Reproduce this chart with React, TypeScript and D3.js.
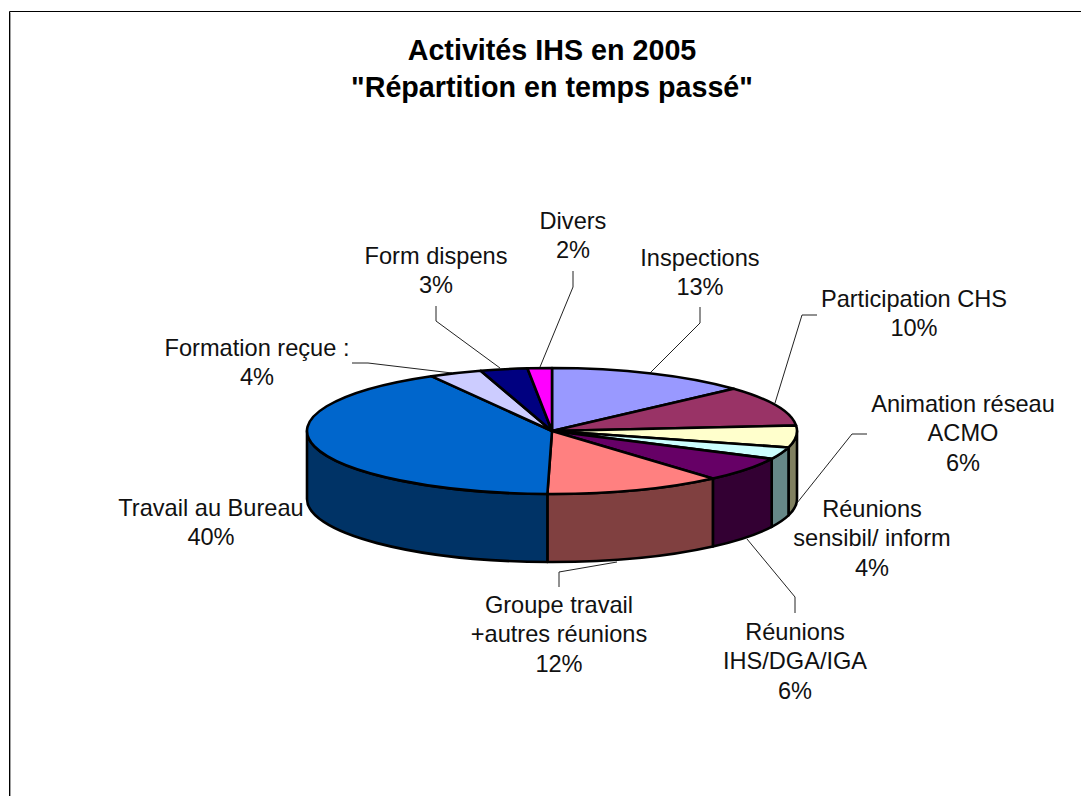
import React from "react";
import * as d3 from "d3";

const titleLines = ["Activités IHS en 2005", "\"Répartition en temps passé\""];
const categories = ["Inspections", "Participation CHS", "Animation réseau ACMO", "Réunions sensibil/ inform", "Réunions IHS/DGA/IGA", "Groupe travail +autres réunions", "Travail au Bureau", "Formation reçue :", "Form dispens", "Divers"];
const values = [13.3, 10.3, 5.6, 3.1, 6.3, 11.7, 41.5, 3.5, 3.1, 1.6];
const topColors = ["#9999FF", "#993366", "#FFFFCC", "#CCFFFF", "#660066", "#FF8080", "#0066CC", "#CCCCFF", "#000080", "#FF00FF"];
const sideColors = ["#4D4D80", "#4D1A33", "#808060", "#668888", "#330033", "#804040", "#003366", "#666680", "#000040", "#800080"];
const labelLines = [["Inspections", "13%"], ["Participation CHS", "10%"], ["Animation réseau", "ACMO", "6%"], ["Réunions", "sensibil/ inform", "4%"], ["Réunions", "IHS/DGA/IGA", "6%"], ["Groupe travail", "+autres réunions", "12%"], ["Travail au Bureau", "40%"], ["Formation reçue :", "4%"], ["Form dispens", "3%"], ["Divers", "2%"]];
const labelAnchors: [number, number][] = [[700, 266], [914, 307], [963, 412], [872, 517], [795, 640], [559, 613], [211, 516], [257, 356], [436, 264], [573, 229]];
const leaders: [number, number][][] = [
  [[700, 307], [700, 323], [650, 373]],
  [[817, 315], [802, 315], [775, 403]],
  [[867, 434], [852, 434], [793, 508]],
  [],
  [[795, 613], [795, 597], [747, 539]],
  [[617, 562], [559, 572], [559, 587]],
  [],
  [[352, 363], [368, 363], [452, 373]],
  [[436, 306], [436, 321], [500, 368]],
  [[573, 271], [573, 287], [540, 367]],
];

const W = 1081, H = 796;
const cx = 552, cy = 431, rx = 245, ry = 63, depth = 68;
const lineH = 29.3;

const pt = (a: number, dy = 0): [number, number] => [cx + rx * Math.sin(a), cy - ry * Math.cos(a) + dy];

export default function App() {
  const arcs = d3.pie<number>().sort(null).value((d) => d)(values);
  const line = d3.line();

  const topPath = (s: number, e: number) => {
    const [x0, y0] = pt(s), [x1, y1] = pt(e);
    return `M${cx},${cy}L${x0},${y0}A${rx},${ry} 0 ${e - s > Math.PI ? 1 : 0} 1 ${x1},${y1}Z`;
  };
  const sidePath = (s: number, e: number) => {
    const a = Math.max(s, Math.PI / 2), b = Math.min(e, 1.5 * Math.PI);
    if (b <= a) return null;
    const [x0, y0] = pt(a), [x1, y1] = pt(b), [x2, y2] = pt(b, depth), [x3, y3] = pt(a, depth);
    return `M${x0},${y0}A${rx},${ry} 0 0 1 ${x1},${y1}L${x2},${y2}A${rx},${ry} 0 0 0 ${x3},${y3}Z`;
  };
  const font = "'Liberation Sans', Arial, sans-serif";

  return (
    <svg width={W} height={H} style={{ position: "absolute", left: 0, top: 0, background: "#fff" }} fontFamily={font}>
      <path d={`M10.5,${H}V12.5`} fill="none" stroke="#a0a0a0" strokeWidth={1} />
      <path d={`M9.5,${H}V11.5H${W}`} fill="none" stroke="#000" strokeWidth={1} />
      <text x={552} y={60} textAnchor="middle" fontSize={28.7} fontWeight="bold">{titleLines[0]}</text>
      <text x={552} y={97} textAnchor="middle" fontSize={28.7} fontWeight="bold">{titleLines[1]}</text>

      {leaders.map((l, i) => l.length ? <path key={i} d={line(l) ?? ""} fill="none" stroke="#222" strokeWidth={1} /> : null)}

      {arcs.map((a, i) => {
        const d = sidePath(a.startAngle, a.endAngle);
        return d ? <path key={categories[i] + "s"} d={d} fill={sideColors[i]} stroke="#000" strokeWidth={2.6} strokeLinejoin="round" /> : null;
      })}
      {arcs.map((a, i) => (
        <path key={categories[i]} d={topPath(a.startAngle, a.endAngle)} fill={topColors[i]} stroke="#000" strokeWidth={2.6} strokeLinejoin="round" />
      ))}

      {labelLines.map((ls, i) => (
        <text key={i} textAnchor="middle" fontSize={23.6} fill="#111">
          {ls.map((t, j) => (
            <tspan key={j} x={labelAnchors[i][0]} y={labelAnchors[i][1] + j * lineH}>{t}</tspan>
          ))}
        </text>
      ))}
    </svg>
  );
}
